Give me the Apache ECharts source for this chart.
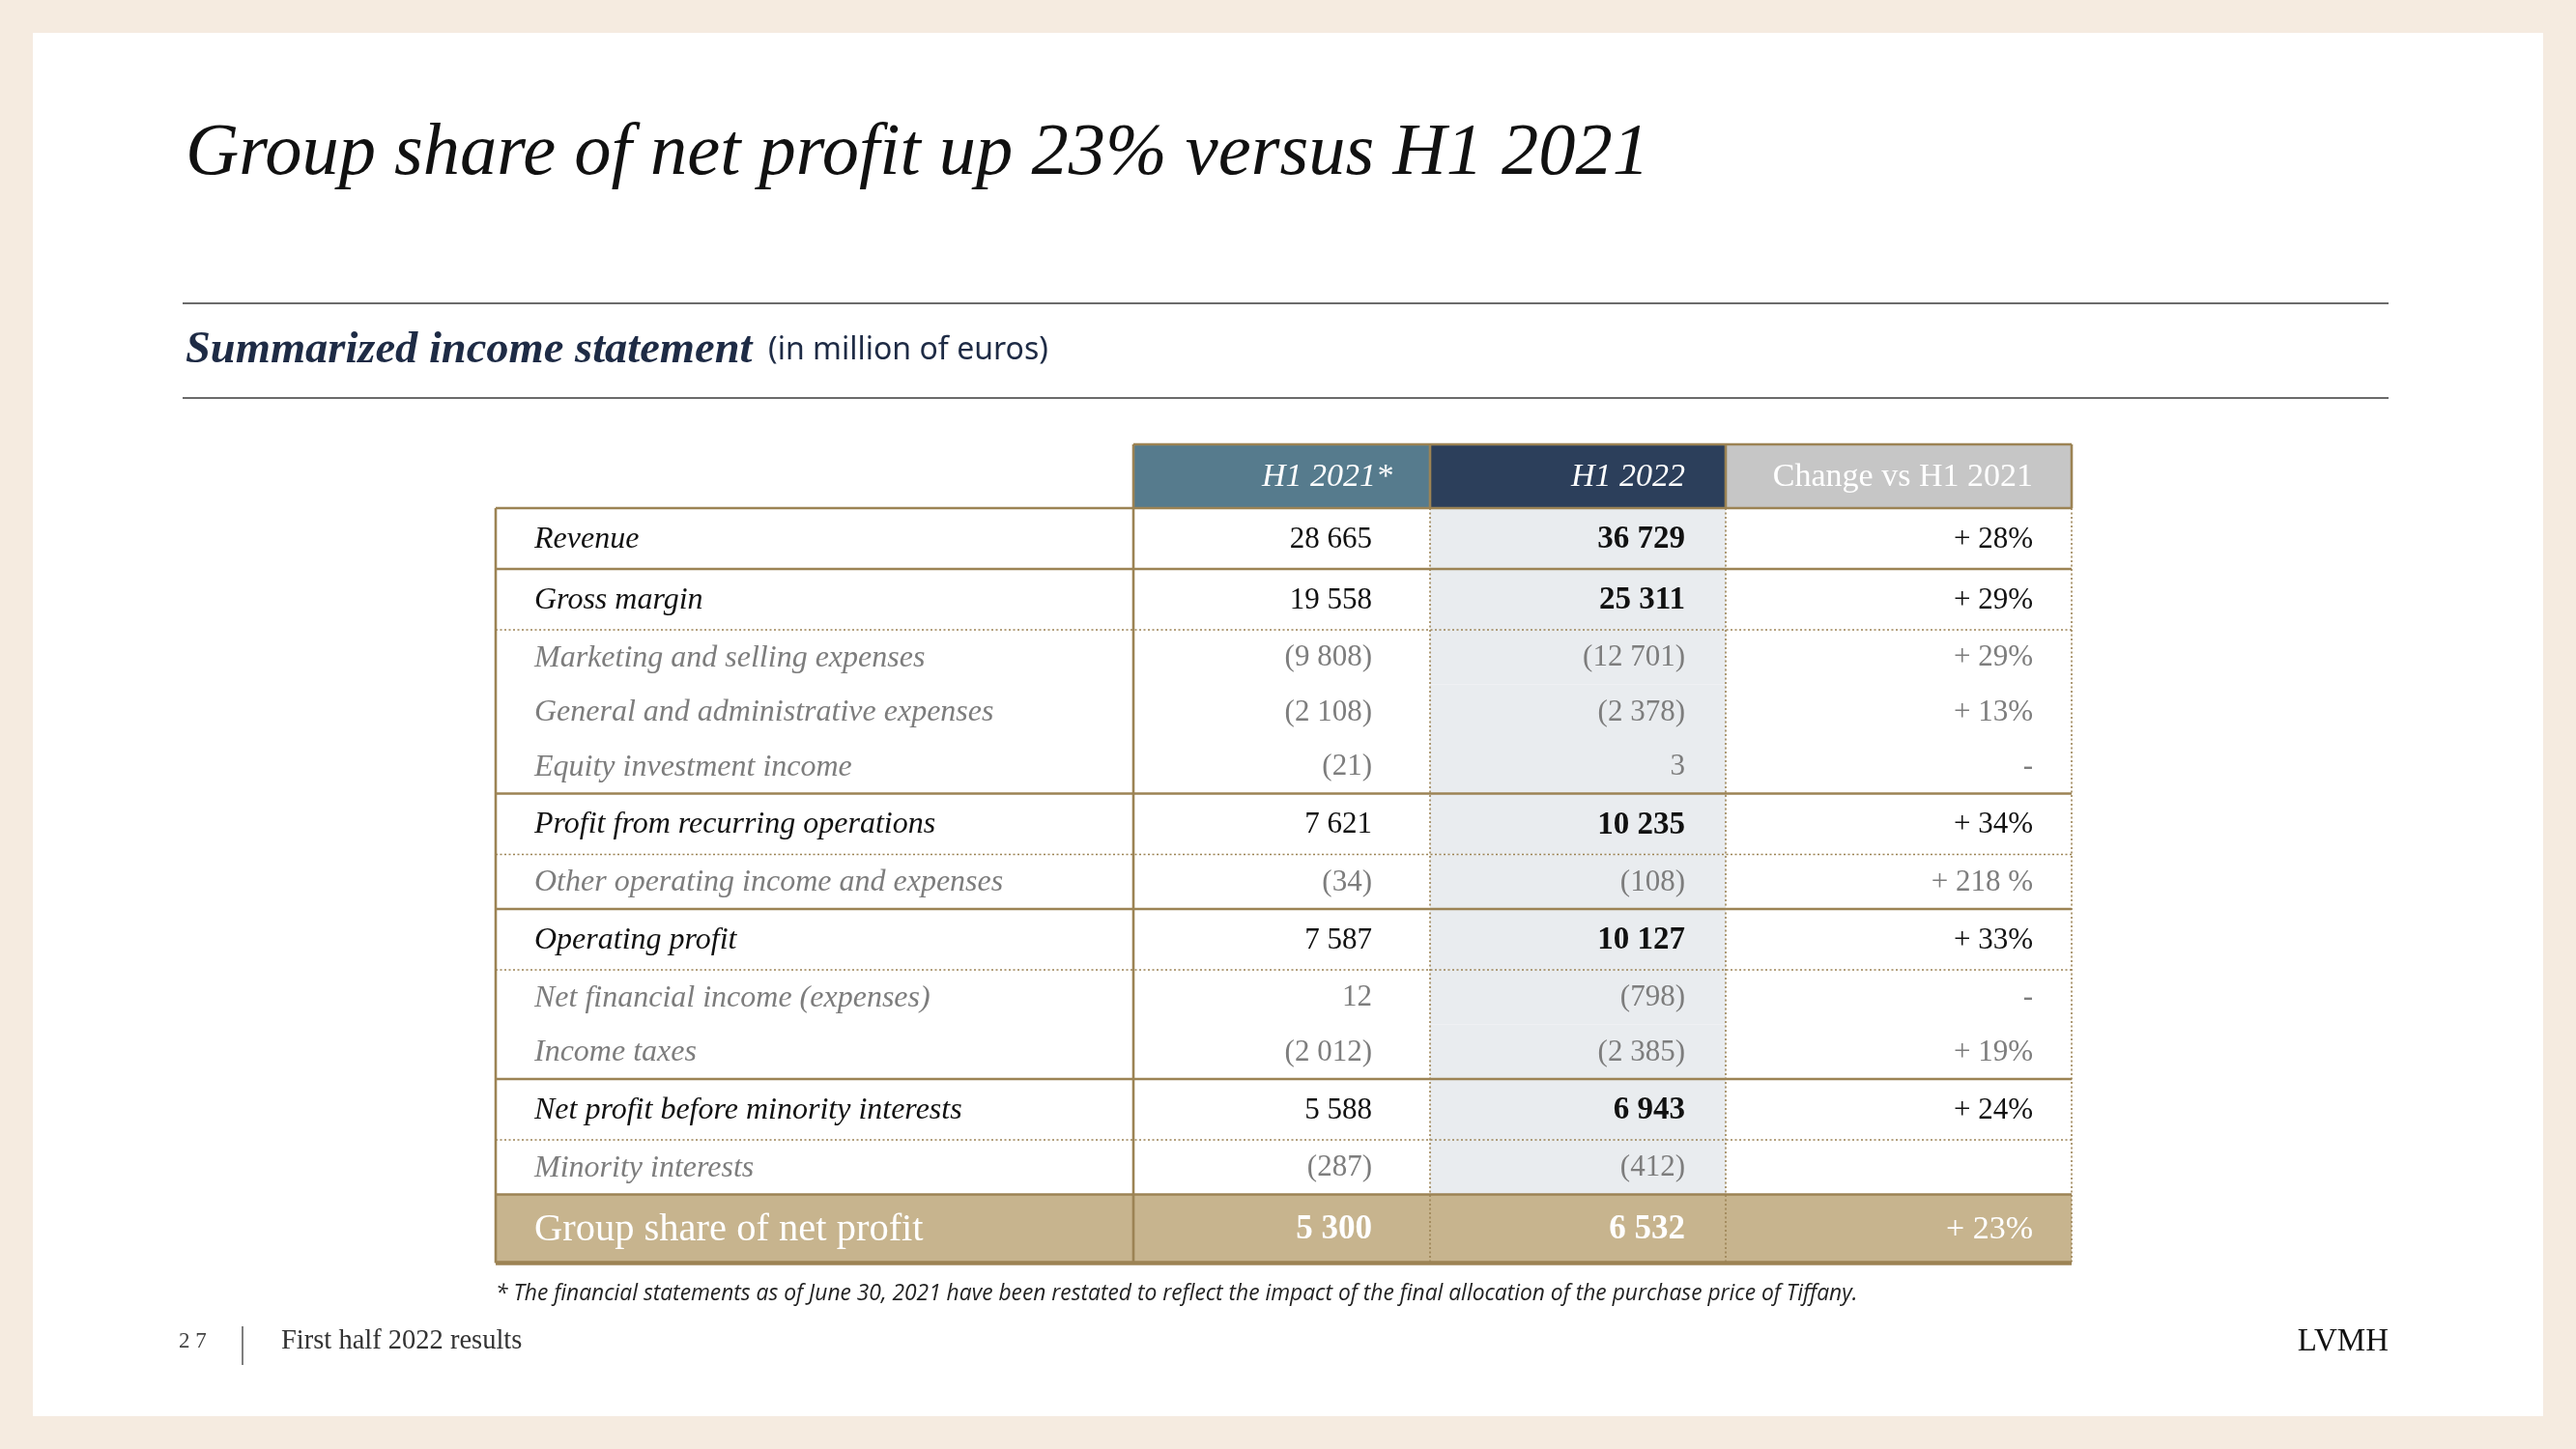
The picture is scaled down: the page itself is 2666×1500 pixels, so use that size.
<!DOCTYPE html>
<html><head><meta charset="utf-8">
<script src="https://cdn.jsdelivr.net/npm/echarts@6/dist/echarts.min.js"></script>
<style>html,body{margin:0;padding:0;background:#f5ebe0}#c{width:2666px;height:1500px}</style>
</head><body><div id="c"></div>
<script>
// ---------- DATA ----------
const columnHeaders = ['H1 2021*', 'H1 2022', 'Change vs H1 2021'];
const rowLabels = [
  'Revenue', 'Gross margin', 'Marketing and selling expenses',
  'General and administrative expenses', 'Equity investment income',
  'Profit from recurring operations', 'Other operating income and expenses',
  'Operating profit', 'Net financial income (expenses)', 'Income taxes',
  'Net profit before minority interests', 'Minority interests', 'Group share of net profit'
];
const h1_2021 = [28665, 19558, -9808, -2108, -21, 7621, -34, 7587, 12, -2012, 5588, -287, 5300];
const h1_2022 = [36729, 25311, -12701, -2378, 3, 10235, -108, 10127, -798, -2385, 6943, -412, 6532];
const changeLabels = ['+ 28%', '+ 29%', '+ 29%', '+ 13%', '-', '+ 34%', '+ 218 %', '+ 33%', '-', '+ 19%', '+ 24%', '', '+ 23%'];

// ---------- STYLE / LAYOUT ----------
const rowKinds = ['major','major','minor','minor','minor','major','minor','major','minor','minor','major','minor','total'];
const rowSeparators = ['solid','dotted','none','none','solid','dotted','solid','dotted','none','solid','dotted','solid','thick'];
const KIND_HEIGHT = { header: 66, major: 63, minor: 56.5, total: 71 };
const COL_WIDTHS = [660, 307, 306, 358];
const VALUE_PAD = [40, 60, 42, 40];
const HEADER_PAD = [0, 39, 42, 40];
const GOLD = '#9c8354';
const SERIF = '"Liberation Serif", "DejaVu Serif", serif';
const HEADER_FILL = ['#ffffff', '#567b8d', '#2c3f5b', '#c6c6c6'];

const colEdges = [0];
COL_WIDTHS.forEach(w => colEdges.push(colEdges[colEdges.length - 1] + w));
const rowEdges = [0, KIND_HEIGHT.header];
rowKinds.forEach(k => rowEdges.push(rowEdges[rowEdges.length - 1] + KIND_HEIGHT[k]));
const tableW = colEdges[colEdges.length - 1];
const tableH = rowEdges[rowEdges.length - 1];

function fmt(v) {
  const s = Math.abs(v).toString().replace(/\B(?=(\d{3})+(?!\d))/g, ' ');
  return v < 0 ? '(' + s + ')' : s;
}

// cell items: [col, row(-1 = header), value]
const cellData = [];
for (let c = 1; c < 4; c++) cellData.push([c, -1, 0]);
rowLabels.forEach((_, r) => {
  cellData.push([0, r, 0]);
  cellData.push([1, r, h1_2021[r]]);
  cellData.push([2, r, h1_2022[r]]);
  cellData.push([3, r, 0]);
});

// border items: [x0, y0, x1, y1, kind] kind: 0 solid, 1 dotted, 2 thick
const KIND_CODE = { solid: 0, dotted: 1, thick: 2 };
const borderData = [];
borderData.push([colEdges[2], rowEdges[1], colEdges[2], tableH, 1]);
borderData.push([colEdges[3], rowEdges[1], colEdges[3], tableH, 1]);
borderData.push([colEdges[4], rowEdges[1], colEdges[4], tableH, 1]);
rowSeparators.forEach((s, r) => {
  if (s !== 'none') borderData.push([0, rowEdges[r + 2], tableW, rowEdges[r + 2], KIND_CODE[s]]);
});
borderData.push([0, rowEdges[1], tableW, rowEdges[1], 0]);
borderData.push([0, rowEdges[1], 0, tableH, 0]);
borderData.push([colEdges[1], 0, colEdges[1], tableH, 0]);
borderData.push([colEdges[1], 0, tableW, 0, 0]);
for (let c = 2; c <= 4; c++) borderData.push([colEdges[c], 0, colEdges[c], rowEdges[1], 0]);

function cellRender(params, api) {
  const c = api.value(0), r = api.value(1), v = api.value(2);
  const isHeader = r < 0;
  const x0 = colEdges[c], x1 = colEdges[c + 1];
  const y0 = isHeader ? 0 : rowEdges[r + 1];
  const y1 = isHeader ? rowEdges[1] : rowEdges[r + 2];
  const p0 = api.coord([x0, y0]), p1 = api.coord([x1, y1]);
  const kind = isHeader ? 'header' : rowKinds[r];
  let fill = '#ffffff';
  if (isHeader) fill = HEADER_FILL[c];
  else if (kind === 'total') fill = '#c7b48e';
  else if (c === 2) fill = '#e9ecef';
  const cy = (p0[1] + p1[1]) / 2;
  let text = '', font = '', color = '#111', align = 'right', tx = p1[0] - VALUE_PAD[c];
  if (isHeader) {
    text = columnHeaders[c - 1];
    color = '#ffffff';
    tx = p1[0] - HEADER_PAD[c];
    font = (c === 3 ? '' : 'italic ') + '34px ' + SERIF;
  } else if (c === 0) {
    text = rowLabels[r];
    align = 'left';
    tx = p0[0] + VALUE_PAD[0];
    if (kind === 'total') { font = '40.5px ' + SERIF; color = '#ffffff'; }
    else { font = 'italic 32px ' + SERIF; color = kind === 'minor' ? '#7d7d7d' : '#111111'; }
  } else if (c === 3) {
    text = changeLabels[r];
    font = (kind === 'total' ? '34px ' : '31px ') + SERIF;
    color = kind === 'total' ? '#ffffff' : kind === 'minor' ? '#7d7d7d' : '#111111';
  } else {
    text = fmt(v);
    const bold = (c === 2 && kind !== 'minor') || kind === 'total';
    const size = kind === 'total' ? 35 : bold ? 33 : 31;
    font = (bold ? 'bold ' : '') + size + 'px ' + SERIF;
    color = kind === 'total' ? '#ffffff' : kind === 'minor' ? '#7d7d7d' : '#111111';
  }
  return {
    type: 'group',
    children: [
      { type: 'rect', shape: { x: p0[0], y: p0[1], width: p1[0] - p0[0], height: p1[1] - p0[1] }, style: { fill: fill } },
      { type: 'text', style: { text: text, x: tx, y: cy + 1, font: font, fill: color, align: align, textAlign: align, verticalAlign: 'middle', textVerticalAlign: 'middle' } }
    ]
  };
}

function borderRender(params, api) {
  const p0 = api.coord([api.value(0), api.value(1)]);
  const p1 = api.coord([api.value(2), api.value(3)]);
  const k = api.value(4);
  return {
    type: 'line',
    shape: { x1: p0[0], y1: p0[1], x2: p1[0], y2: p1[1] },
    style: { stroke: GOLD, lineWidth: k === 2 ? 4.5 : k === 1 ? 1.6 : 2.6, lineDash: k === 1 ? [2, 2.5] : null, lineCap: 'butt' }
  };
}

const chart = echarts.init(document.getElementById('c'), null, { renderer: 'canvas' });
chart.setOption({
  backgroundColor: '#f5ebe0',
  animation: false,
  grid: { left: 513, top: 460, width: tableW, height: tableH, containLabel: false },
  xAxis: { type: 'value', min: 0, max: tableW, show: false },
  yAxis: { type: 'value', min: 0, max: tableH, inverse: true, show: false },
  graphic: [
    { type: 'rect', z: -100, shape: { x: 34, y: 34, width: 2598, height: 1432 }, style: { fill: '#ffffff' } },
    { type: 'text', x: 192, y: 160, style: { text: 'Group share of net profit up 23% versus H1 2021', font: 'italic 76.5px ' + SERIF, fill: '#111111', align: 'left', textAlign: 'left', verticalAlign: 'middle', textVerticalAlign: 'middle' } },
    { type: 'line', shape: { x1: 189, y1: 314, x2: 2472, y2: 314 }, style: { stroke: '#3a3a3a', lineWidth: 1.6 } },
    { type: 'line', shape: { x1: 189, y1: 412, x2: 2472, y2: 412 }, style: { stroke: '#3a3a3a', lineWidth: 1.6 } },
    { type: 'text', x: 192, y: 363, style: {
        text: '{a|Summarized income statement}{b|  (in million of euros)}',
        verticalAlign: 'middle', textVerticalAlign: 'middle',
        rich: {
          a: { font: 'italic bold 46.5px ' + SERIF, fill: '#1e2b45', color: '#1e2b45' },
          b: { font: '32px "Noto Sans", sans-serif', fill: '#1e2b45', color: '#1e2b45' }
        } } },
    { type: 'text', x: 513, y: 1340, style: { text: '* The financial statements as of June 30, 2021 have been restated to reflect the impact of the final allocation of the purchase price of Tiffany.', font: 'italic 22.8px "Open Sans", sans-serif', fill: '#222222', verticalAlign: 'middle', textVerticalAlign: 'middle' } },
    { type: 'text', x: 185, y: 1389, style: { text: '2 7', font: '23px ' + SERIF, fill: '#444444', verticalAlign: 'middle', textVerticalAlign: 'middle' } },
    { type: 'line', shape: { x1: 251, y1: 1373, x2: 251, y2: 1413 }, style: { stroke: '#555555', lineWidth: 1.5 } },
    { type: 'text', x: 291, y: 1389, style: { text: 'First half 2022 results', font: '28.5px ' + SERIF, fill: '#333333', verticalAlign: 'middle', textVerticalAlign: 'middle' } },
    { type: 'text', x: 2472, y: 1389, style: { text: 'LVMH', font: '33px ' + SERIF, fill: '#111111', align: 'right', textAlign: 'right', verticalAlign: 'middle', textVerticalAlign: 'middle' } }
  ],
  series: [
    { type: 'custom', name: 'cells', z: 5, coordinateSystem: 'cartesian2d', renderItem: cellRender, data: cellData, silent: true },
    { type: 'custom', name: 'borders', z: 6, coordinateSystem: 'cartesian2d', renderItem: borderRender, data: borderData, silent: true }
  ]
});
</script>
</body></html>
